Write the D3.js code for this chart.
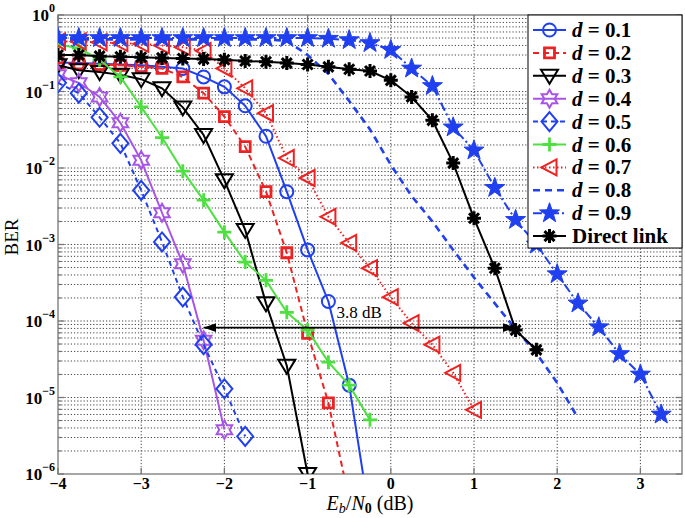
<!DOCTYPE html>
<html>
<head>
<meta charset="utf-8">
<script src="https://cdn.jsdelivr.net/npm/d3@7"></script>
<style>
  body { margin: 0; background: #fff; }
  svg { font-family: "Liberation Serif", "DejaVu Serif", serif; }
</style>
</head>
<body>
<svg id="chart" width="685" height="518"></svg>
<script>
// Eb/N0 grid (dB) and BER curves
var ebn0 = d3.range(-4, 3.26, 0.25);

var berD01 = [0.24, 0.235, 0.23, 0.225, 0.22, 0.21, 0.2, 0.155, 0.115, 0.065, 0.026, 4.9e-3, 8.5e-4, 1.8e-4, 1.45e-5, 2.6e-7];
var berD02 = [0.235, 0.23, 0.225, 0.22, 0.21, 0.2, 0.155, 0.095, 0.047, 0.019, 4.9e-3, 7.8e-4, 6.9e-5, 8.5e-6, 4.6e-7];
var berD03 = [0.22, 0.19, 0.18, 0.165, 0.145, 0.11, 0.062, 0.027, 6.9e-3, 1.55e-3, 1.7e-4, 2.6e-5, 1.0e-6];
var berD04 = [0.165, 0.13, 0.085, 0.039, 0.0126, 2.6e-3, 5.6e-4, 5.6e-5, 3.8e-6];
var berD05 = [0.13, 0.095, 0.046, 0.021, 5.1e-3, 1.08e-3, 2.06e-4, 4.9e-5, 1.3e-5, 3.1e-6];
var berD06 = [0.41, 0.37, 0.26, 0.155, 0.063, 0.025, 9.1e-3, 3.8e-3, 1.45e-3, 5.9e-4, 3.4e-4, 1.3e-4, 7.6e-5, 2.9e-5, 1.45e-5, 5.1e-6];
var berD07 = [0.45, 0.45, 0.44, 0.43, 0.42, 0.4, 0.38, 0.34, 0.2, 0.11, 0.052, 0.0135, 7.4e-3, 2.3e-3, 1.05e-3, 4.9e-4, 2.05e-4, 9.4e-5, 4.9e-5, 2.1e-5, 6.9e-6];
var berD08 = [0.48, 0.48, 0.48, 0.48, 0.48, 0.48, 0.48, 0.48, 0.48, 0.48, 0.48, 0.46, 0.30, 0.17, 0.075, 0.032, 0.011, 4.3e-3, 2.0e-3, 8.5e-4, 3.7e-4, 1.7e-4, 7.8e-5, 3.8e-5, 1.55e-5, 5.4e-6];
var berD09 = [0.5, 0.5, 0.5, 0.5, 0.5, 0.5, 0.5, 0.5, 0.5, 0.5, 0.5, 0.5, 0.5, 0.49, 0.47, 0.43, 0.35, 0.2, 0.118, 0.034, 0.017, 5.5e-3, 2.1e-3, 1.0e-3, 4.1e-4, 1.7e-4, 8.3e-5, 3.7e-5, 2.0e-5, 6.0e-6];
var berDirect = [0.30, 0.30, 0.29, 0.285, 0.28, 0.275, 0.27, 0.265, 0.26, 0.25, 0.245, 0.235, 0.225, 0.21, 0.195, 0.185, 0.14, 0.085, 0.042, 0.0116, 2.2e-3, 4.9e-4, 7.6e-5, 4.2e-5];

var seriesNames = ["d = 0.1", "d = 0.2", "d = 0.3", "d = 0.4", "d = 0.5", "d = 0.6", "d = 0.7", "d = 0.8", "d = 0.9", "Direct link"];
var seriesValues = [berD01, berD02, berD03, berD04, berD05, berD06, berD07, berD08, berD09, berDirect];

var xTicks = [-4, -3, -2, -1, 0, 1, 2, 3];
var yTickExps = [0, -1, -2, -3, -4, -5, -6];

// 3.8 dB gap annotation
var gapFrom = -2.25, gapTo = 1.5, gapBer = 8.2e-5;

var blue = "#2040f0", red = "#ee2222", purple = "#a855e6", green = "#4ee040";

// style per series: color, dash, marker type
var styles = [
  {c: blue,   dash: null,        m: "circle"},
  {c: red,    dash: "6,4",       m: "square"},
  {c: "#000", dash: null,        m: "tridown"},
  {c: purple, dash: null,        m: "hexagram"},
  {c: blue,   dash: "5,4",       m: "diamond"},
  {c: green,  dash: null,        m: "plus"},
  {c: red,    dash: "1.5,2.5",   m: "trileft"},
  {c: blue,   dash: "7,5",       m: null, w: 2.6},
  {c: blue,   dash: "9,3,2,3",   m: "pentagram"},
  {c: "#000", dash: null,        m: "asterisk"}
];

var svg = d3.select("#chart");
var x = d3.scaleLinear().domain([-4, 3.5]).range([58, 682]);
var y = d3.scaleLog().domain([1e-6, 1]).range([474, 15]);

svg.append("defs").append("clipPath").attr("id", "plotclip")
  .append("rect").attr("x", 58).attr("y", 15).attr("width", 624).attr("height", 459);

// grid
var grid = svg.append("g").attr("stroke", "#444").attr("stroke-width", 1).attr("stroke-dasharray", "1.2,2");
xTicks.forEach(function (t) {
  if (t === -4) return;
  grid.append("line").attr("x1", x(t)).attr("x2", x(t)).attr("y1", 15).attr("y2", 474);
});
var yGridVals = [];
for (var e = -6; e < 0; e++) {
  for (var m = 1; m <= 9; m++) yGridVals.push(m * Math.pow(10, e));
}
yGridVals.forEach(function (v) {
  if (v <= 1e-6) return;
  grid.append("line").attr("x1", 58).attr("x2", 682).attr("y1", y(v)).attr("y2", y(v));
});

// frame and ticks
var frame = svg.append("g").attr("stroke", "#777").attr("stroke-width", 1.3).attr("fill", "none");
frame.append("rect").attr("x", 58).attr("y", 15).attr("width", 624).attr("height", 459);
xTicks.forEach(function (t) {
  frame.append("line").attr("x1", x(t)).attr("x2", x(t)).attr("y1", 474).attr("y2", 468);
  frame.append("line").attr("x1", x(t)).attr("x2", x(t)).attr("y1", 15).attr("y2", 21);
});
yGridVals.concat([1]).forEach(function (v) {
  var len = Number.isInteger(Math.round(Math.log10(v) * 1000) / 1000) ? 6 : 3;
  frame.append("line").attr("x1", 58).attr("x2", 58 + len).attr("y1", y(v)).attr("y2", y(v));
  frame.append("line").attr("x1", 682).attr("x2", 682 - len).attr("y1", y(v)).attr("y2", y(v));
});

// tick labels
svg.append("g").selectAll("text").data(xTicks).enter().append("text")
  .attr("x", function (d) { return x(d); })
  .attr("y", 488.5)
  .attr("text-anchor", "middle")
  .attr("font-size", 16).attr("font-weight", "bold")
  .text(function (d) { return d < 0 ? "\u2212" + Math.abs(d) : d; });

var yl = svg.append("g").selectAll("text").data(yTickExps).enter().append("text")
  .attr("x", 55)
  .attr("y", function (d) { return y(Math.pow(10, d)) + 6; })
  .attr("text-anchor", "end")
  .attr("font-size", 17).attr("font-weight", "bold");
yl.append("tspan").text("10");
yl.append("tspan").attr("dy", -9).attr("font-size", 12)
  .text(function (d) { return d < 0 ? "\u2212" + Math.abs(d) : d; });

// axis labels
var xl = svg.append("text").attr("x", 370).attr("y", 510).attr("text-anchor", "middle").attr("font-size", 20);
xl.append("tspan").attr("font-style", "italic").text("E");
xl.append("tspan").attr("font-style", "italic").attr("font-size", 14).attr("dy", 3).text("b");
xl.append("tspan").attr("dy", -3).text("/");
xl.append("tspan").attr("font-style", "italic").text("N");
xl.append("tspan").attr("font-size", 14).attr("font-weight", "bold").attr("dy", 3).text("0");
xl.append("tspan").attr("dy", -3).text(" (dB)");

svg.append("text").attr("transform", "translate(18,237) rotate(-90)")
  .attr("text-anchor", "middle").attr("font-size", 19).text("BER");

// marker shapes
function starPath(n, R, r) {
  var pts = [];
  for (var i = 0; i < 2 * n; i++) {
    var a = -Math.PI / 2 + i * Math.PI / n;
    var rad = i % 2 === 0 ? R : r;
    pts.push([rad * Math.cos(a), rad * Math.sin(a)]);
  }
  return "M" + pts.map(function (p) { return p[0].toFixed(2) + "," + p[1].toFixed(2); }).join("L") + "Z";
}
var shapes = {
  circle: "M6.5,0A6.5,6.5 0 1,1 -6.5,0A6.5,6.5 0 1,1 6.5,0Z",
  square: "M-5,-5L5,-5L5,5L-5,5Z",
  tridown: "M-8.5,-6L8.5,-6L0,8Z",
  hexagram: starPath(6, 9, 5.2),
  diamond: "M0,-9.5L8,0L0,9.5L-8,0Z",
  plus: "M-7,0L7,0M0,-7L0,7",
  trileft: "M-8,0L7,-8L7,8Z",
  pentagram: starPath(5, 10.5, 4.2),
  asterisk: "M-7,0L7,0M0,-7L0,7M-5,-5L5,5M-5,5L5,-5"
};

function drawMarker(g, st, px, py) {
  if (!st.m) return;
  var p = g.append("path").attr("d", shapes[st.m]).attr("transform", "translate(" + px + "," + py + ")");
  if (st.m === "pentagram") {
    p.attr("fill", st.c).attr("stroke", st.c).attr("stroke-width", 1);
  } else if (st.m === "asterisk") {
    p.attr("fill", "none").attr("stroke", st.c).attr("stroke-width", 3);
    g.append("circle").attr("cx", px).attr("cy", py).attr("r", 3.5).attr("fill", st.c);
  } else {
    p.attr("fill", "none").attr("stroke", st.c).attr("stroke-width", st.m === "square" || st.m === "plus" ? 2.8 : 2);
  }
}

var line = d3.line().x(function (d) { return x(d[0]); }).y(function (d) { return y(d[1]); });
var plot = svg.append("g").attr("clip-path", "url(#plotclip)");

seriesValues.forEach(function (vals, i) {
  var st = styles[i];
  var pts = vals.map(function (v, k) { return [ebn0[k], v]; });
  var g = plot.append("g");
  g.append("path").datum(pts).attr("d", line)
    .attr("fill", "none").attr("stroke", st.c)
    .attr("stroke-width", st.w || 2)
    .attr("stroke-dasharray", st.dash);
  pts.forEach(function (p) { drawMarker(g, st, x(p[0]), y(p[1])); });
});

// gap arrow
var defs = svg.select("defs");
defs.append("marker").attr("id", "ah").attr("viewBox", "0 0 10 10").attr("refX", 10).attr("refY", 5)
  .attr("markerWidth", 7).attr("markerHeight", 7).attr("orient", "auto-start-reverse")
  .append("path").attr("d", "M0,1.5L10,5L0,8.5Z").attr("fill", "#000");
svg.append("line")
  .attr("x1", x(gapFrom)).attr("x2", x(gapTo)).attr("y1", y(gapBer)).attr("y2", y(gapBer))
  .attr("stroke", "#000").attr("stroke-width", 1.8)
  .attr("marker-start", "url(#ah)").attr("marker-end", "url(#ah)");
svg.append("text").attr("x", x(-0.38)).attr("y", y(1.08e-4))
  .attr("text-anchor", "middle").attr("font-size", 17).text("3.8 dB");

// legend
var leg = svg.append("g");
leg.append("rect").attr("x", 528).attr("y", 15).attr("width", 154).attr("height", 233)
  .attr("fill", "#fff").attr("stroke", "#000").attr("stroke-width", 1);
seriesNames.forEach(function (name, i) {
  var st = styles[i];
  var ry = 30 + i * 22.9;
  var g = leg.append("g");
  g.append("line").attr("x1", 533).attr("x2", 566).attr("y1", ry).attr("y2", ry)
    .attr("stroke", st.c).attr("stroke-width", st.w || 2).attr("stroke-dasharray", st.dash);
  drawMarker(g, st, 549.5, ry);
  var t = g.append("text").attr("x", 572).attr("y", ry + 7).attr("font-size", 21).attr("font-weight", "bold");
  if (name.indexOf("d =") === 0) {
    t.append("tspan").attr("font-style", "italic").text("d");
    t.append("tspan").text(" = " + name.slice(4));
  } else {
    t.text(name);
  }
});
</script>
</body>
</html>
